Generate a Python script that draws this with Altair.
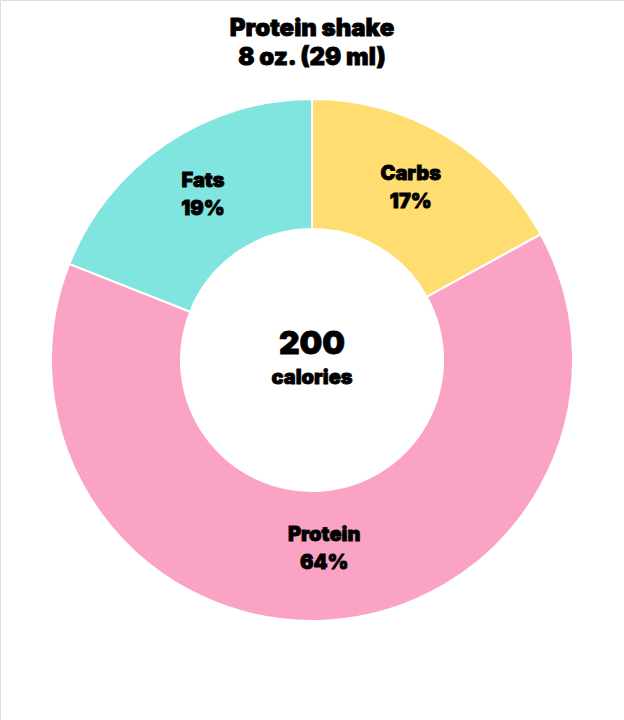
import altair as alt
import pandas as pd

categories = ["Carbs", "Protein", "Fats"]
percents = [17, 64, 19]
colors = ["#FFDD71", "#FBA3C4", "#80E5DF"]
title_lines = ["Protein shake", "8 oz. (29 ml)"]
calories = 200

df = pd.DataFrame({
    "category": categories,
    "percent": percents,
    "order": list(range(len(categories))),
    "label": [f"{p}%" for p in percents],
})

FONT = "Inter"
W, H = 624, 720
CX, CY = 312, 360
TXT = dict(font=FONT, fontWeight=900, color="black", stroke="black", strokeWidth=0.8)

base = alt.Chart(df).encode(
    theta=alt.Theta("percent:Q", stack=True),
    order=alt.Order("order:Q"),
)

arcs = base.mark_arc(outerRadius=261, innerRadius=131, stroke="white", strokeWidth=2).encode(
    color=alt.Color("category:N", scale=alt.Scale(domain=categories, range=colors), legend=None),
    x=alt.value(CX), y=alt.value(CY),
)

names = base.mark_text(radius=194, dy=-19, fontSize=20, **TXT).encode(
    text="category:N", x=alt.value(CX), y=alt.value(CY),
)
pcts = base.mark_text(radius=194, dy=9, fontSize=20, **TXT).encode(
    text="label:N", x=alt.value(CX), y=alt.value(CY),
)

center_df = pd.DataFrame({"t": [str(calories)]})
center_num = alt.Chart(center_df).mark_text(fontSize=32, **TXT).encode(
    text="t:N", x=alt.value(CX), y=alt.value(CY - 16),
)
center_df2 = pd.DataFrame({"t": ["calories"]})
center_lbl = alt.Chart(center_df2).mark_text(fontSize=20, **TXT).encode(
    text="t:N", x=alt.value(CX), y=alt.value(CY + 18),
)

t_df = pd.DataFrame({"t": title_lines, "i": [0, 1]})
title1 = alt.Chart(t_df.iloc[[0]]).mark_text(fontSize=24, **TXT).encode(
    text="t:N", x=alt.value(CX), y=alt.value(29),
)
title2 = alt.Chart(t_df.iloc[[1]]).mark_text(fontSize=24, **TXT).encode(
    text="t:N", x=alt.value(CX), y=alt.value(58),
)

chart = alt.layer(arcs, names, pcts, center_num, center_lbl, title1, title2).properties(
    width=W, height=H, autosize=alt.AutoSizeParams(type="none"), padding=0,
).configure_view(stroke=None).configure(background="white")

chart.save("out.html", embed_options={"renderer": "svg", "actions": False})
